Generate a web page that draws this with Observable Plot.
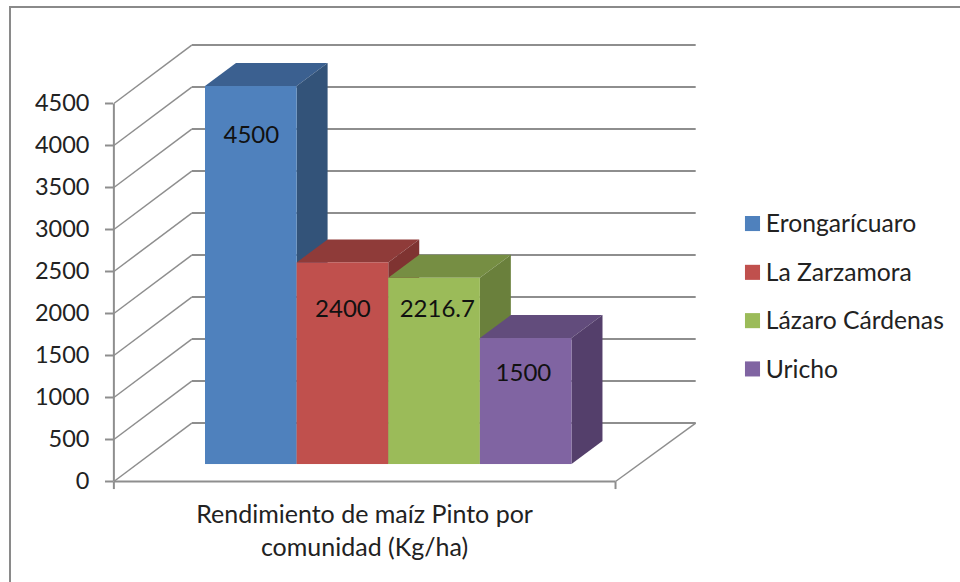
<!DOCTYPE html>
<html>
<head>
<meta charset="utf-8">
<script src="https://cdn.jsdelivr.net/npm/d3@7"></script>
<script src="https://cdn.jsdelivr.net/npm/@observablehq/plot@0.6"></script>
<style>
  html, body { margin: 0; padding: 0; background: #fff; }
  #page { position: relative; width: 960px; height: 582px; overflow: hidden; }
  #page svg { position: absolute; left: 0; top: 0; }
  #edge { position: absolute; left: 9px; top: 6px; width: 960px; height: 600px;
          border-left: 2px solid #8a8a8a; border-top: 2px solid #8a8a8a; }
</style>
</head>
<body>
<div id="page"><div id="edge"></div></div>
<script>
// Data
const communities = ["Erongarícuaro", "La Zarzamora", "Lázaro Cárdenas", "Uricho"];
const yields = [4500, 2400, 2216.7, 1500];
const yieldLabels = ["4500", "2400", "2216.7", "1500"];
const yTicks = [0, 500, 1000, 1500, 2000, 2500, 3000, 3500, 4000, 4500];
const categoryLabel = "Rendimiento de maíz Pinto por\ncomunidad (Kg/ha)";

// Colours
const frontColors = ["#4f81bd", "#c0504d", "#9bbb59", "#8064a2"];
const topColors = ["#3b6090", "#8f3b39", "#768e43", "#624c7c"];
const sideColors = ["#335379", "#7f3331", "#6a803c", "#543f6b"];
const gray = "#8e8e8e";
const ink = "#222";

// Geometry of the pseudo-3D box, in scale units (x: bar widths, y: kg/ha)
const axisX = -1, floorEndX = 4.475;
const wallDx = 0.85, wallDy = 696;
const barLift = 202, barDx = 0.338, barDy = 274;
const wallBackLeft = axisX + wallDx, wallBackRight = 5.35;

// Label and legend anchors, in scale units
const labelX = [0.5, 1.5, 2.53, 3.47];
const labelY = [4125, 2050, 2050, 1286];
const legendSwatchX = 5.97, legendTextX = 6.115;
const legendY = [3071, 2490, 1915, 1340];

const barMarks = communities.flatMap((c, i) => {
  const x1 = i, x2 = i + 1, v = yields[i];
  const base = barLift, top = barLift + v;
  return [
    Plot.areaX([{y: top, x1, x2}, {y: top + barDy, x1: x1 + barDx, x2: x2 + barDx}],
      {y: "y", x1: "x1", x2: "x2", fill: topColors[i]}),
    Plot.areaY([{x: x2, y1: base, y2: top}, {x: x2 + barDx, y1: base + barDy, y2: top + barDy}],
      {x: "x", y1: "y1", y2: "y2", fill: sideColors[i]}),
    Plot.rect([{x1, x2, y1: base, y2: top}],
      {x1: "x1", x2: "x2", y1: "y1", y2: "y2", fill: frontColors[i]})
  ];
});

const chart = Plot.plot({
  width: 960,
  height: 582,
  marginLeft: 113,
  marginTop: 0,
  marginRight: 0,
  marginBottom: 0,
  style: {fontFamily: "Lato, sans-serif", background: "transparent", overflow: "visible"},
  x: {domain: [0, 4], range: [205, 571.5], axis: null},
  y: {domain: [0, 4500], range: [481, 103], axis: null},
  marks: [
    // back wall grid
    Plot.link(yTicks, {x1: wallBackLeft, x2: wallBackRight, y1: d => d + wallDy, y2: d => d + wallDy, stroke: gray, strokeWidth: 2}),
    // side wall diagonals
    Plot.link(yTicks, {x1: axisX, x2: wallBackLeft, y1: d => d, y2: d => d + wallDy, stroke: gray, strokeWidth: 1.5}),
    // floor
    Plot.link([0], {x1: axisX, x2: floorEndX, y1: 0, y2: 0, stroke: gray, strokeWidth: 2}),
    Plot.link([0], {x1: floorEndX, x2: wallBackRight, y1: 0, y2: wallDy, stroke: gray, strokeWidth: 1.5}),
    Plot.link([axisX, floorEndX], {x1: d => d, x2: d => d, y1: 0, y2: -90, stroke: gray, strokeWidth: 2}),
    // value axis
    Plot.link([0], {x1: axisX, x2: axisX, y1: 0, y2: 4500, stroke: gray, strokeWidth: 2}),
    Plot.axisY({ticks: yTicks, tickFormat: d => String(d), tickSize: 8, tickPadding: 16, fontSize: 23.5,
                anchor: "left", label: null, stroke: gray, strokeWidth: 2, fill: ink}),
    ...barMarks,
    Plot.text(yieldLabels, {x: (d, i) => labelX[i], y: (d, i) => labelY[i], text: d => d,
                            fontSize: 24, fill: "#111"}),
    Plot.text([categoryLabel], {x: 1.736, y: -570, text: d => d, fontSize: 25, fill: ink,
                                lineHeight: 1.32, lineAnchor: "middle"}),
    Plot.dot(communities, {x: legendSwatchX, y: (d, i) => legendY[i], symbol: "square", r: 8.5,
                           fill: (d, i) => frontColors[i], stroke: "none"}),
    Plot.text(communities, {x: legendTextX, y: (d, i) => legendY[i] - 10, text: d => d, textAnchor: "start",
                            fontSize: 24.7, fill: ink})
  ]
});
document.getElementById("page").appendChild(chart);
</script>
</body>
</html>
